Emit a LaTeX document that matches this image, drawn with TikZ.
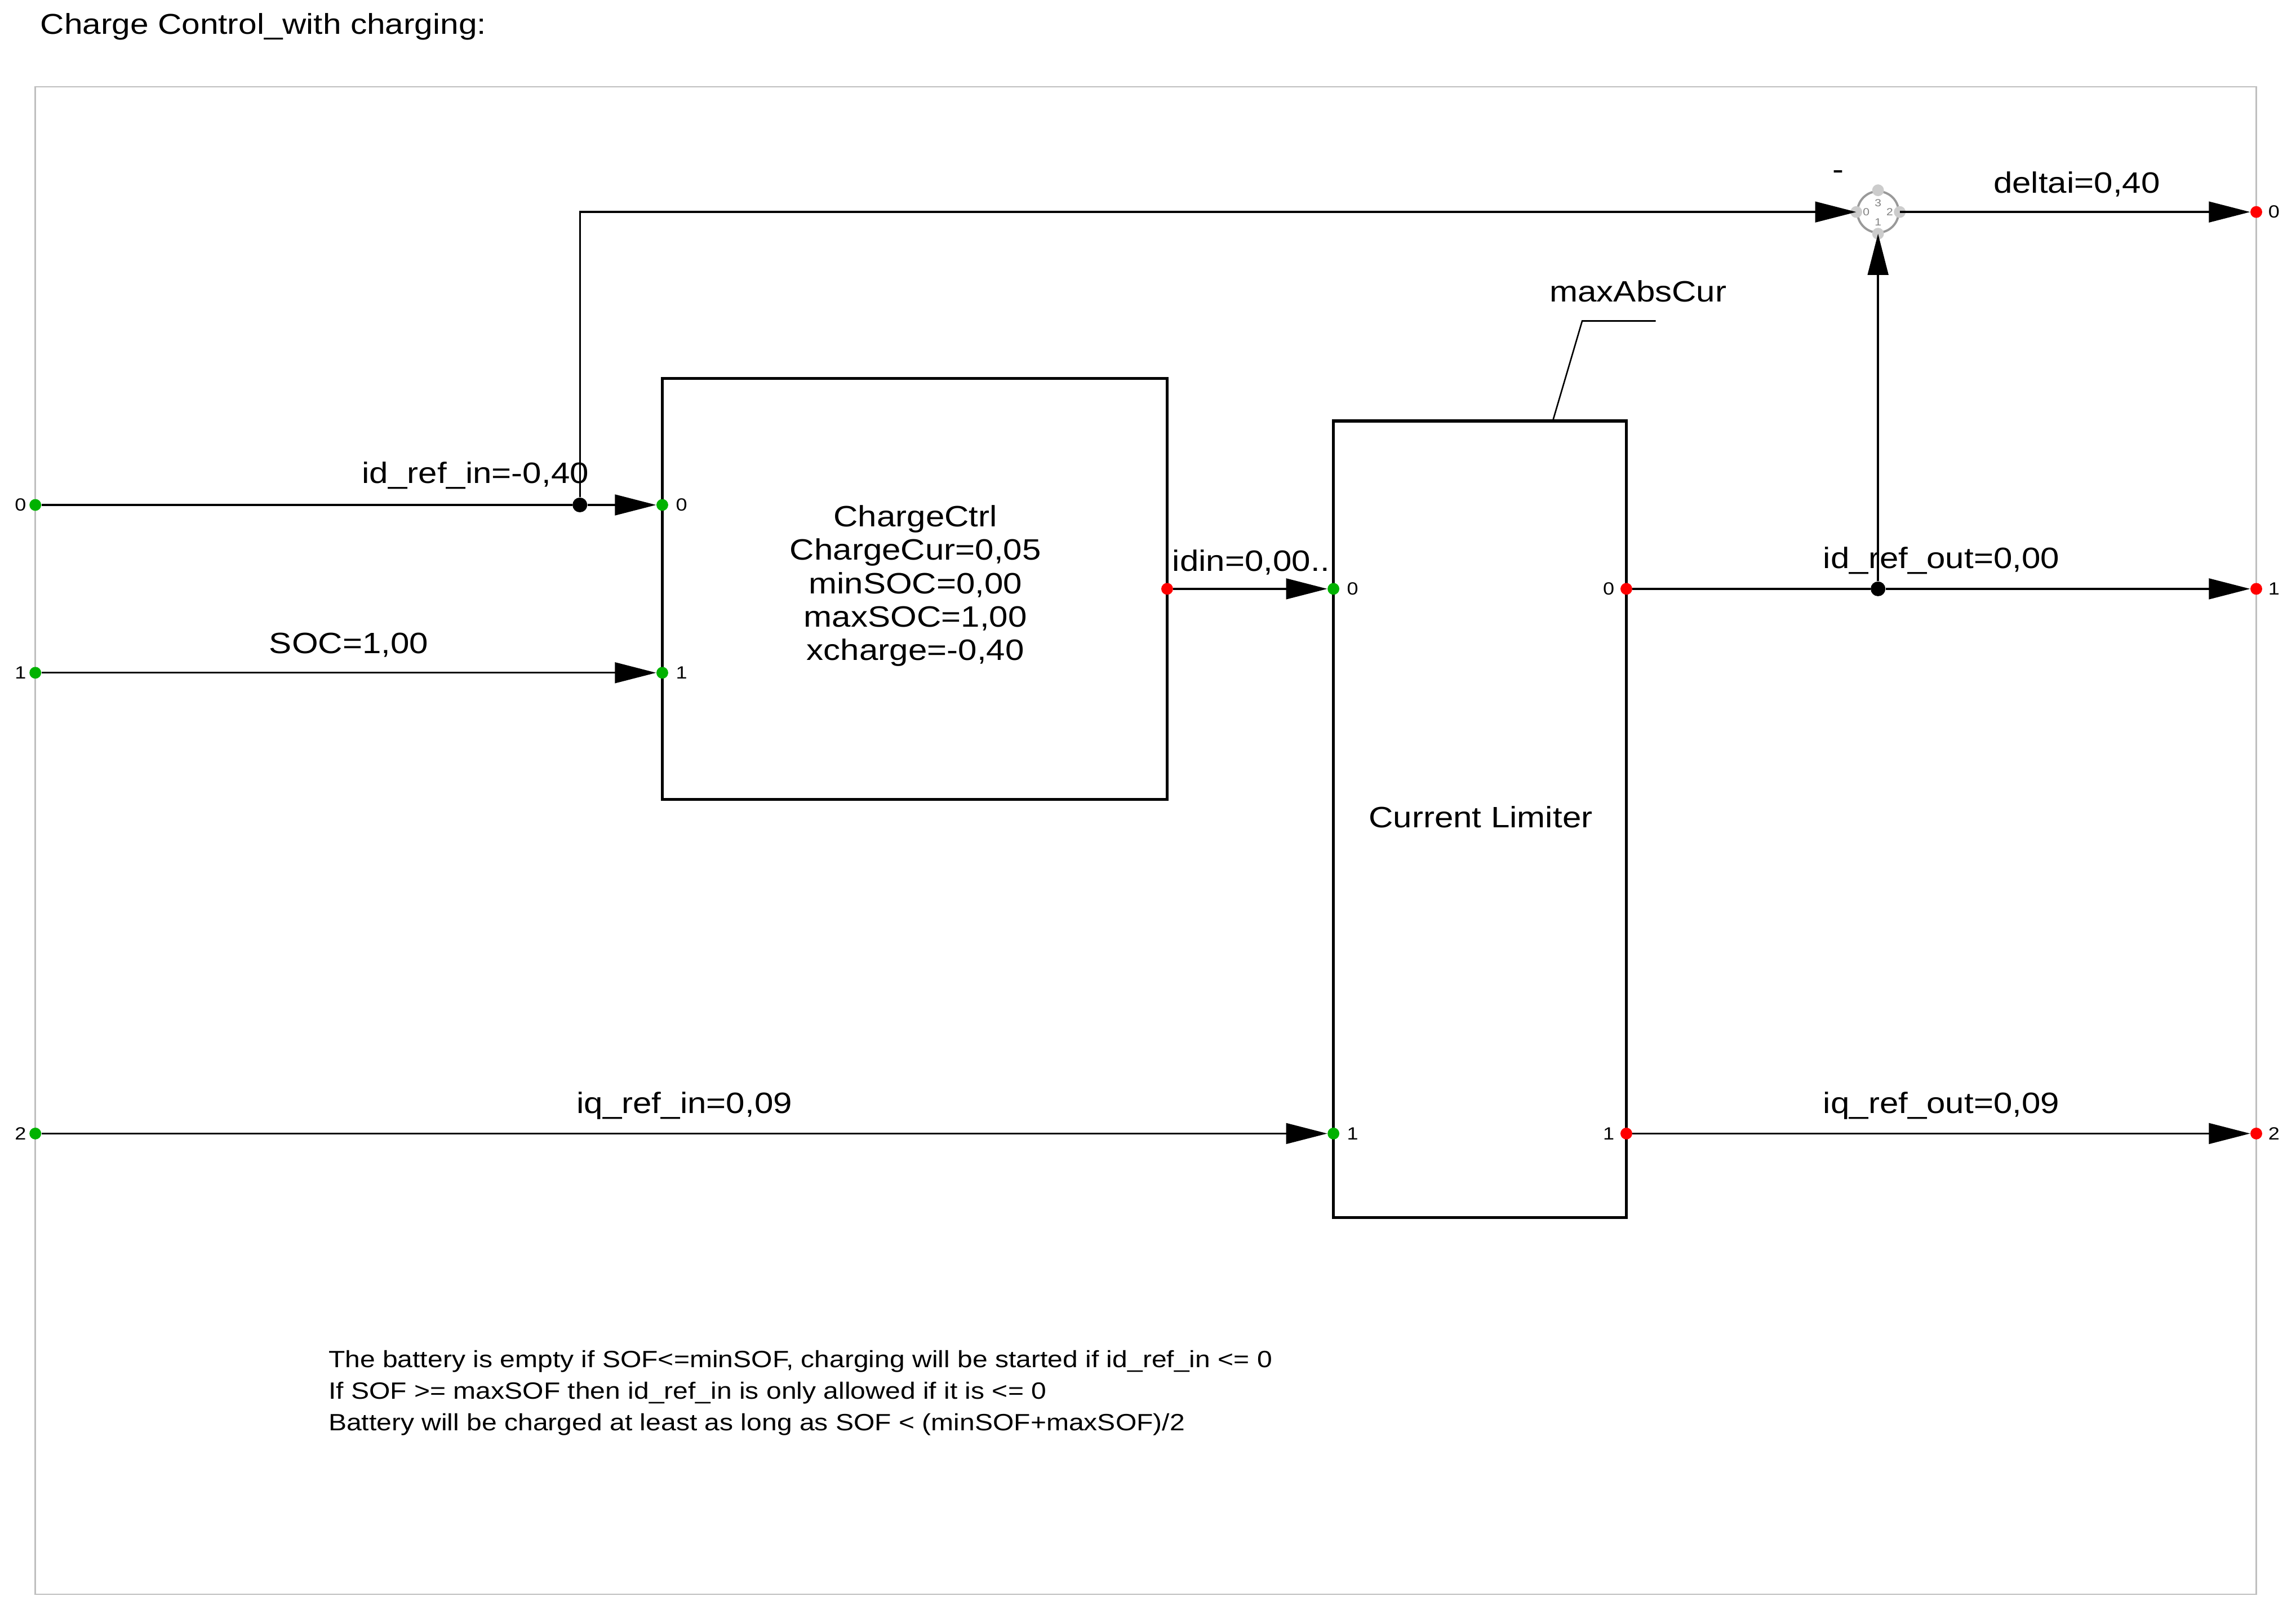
\documentclass[tikz,border=0pt]{standalone}
\usepackage{fontspec}
\setmainfont[FakeStretch=1.15]{Liberation Sans}
\usetikzlibrary{arrows.meta}
\begin{document}
\begin{tikzpicture}[x=1pt,y=-1pt,
  wire/.style={line width=1.3pt},
  arr/.style={wire,-{Triangle[length=28pt,width=14pt]}},
  box/.style={draw,line width=2pt,inner sep=0pt},
  gp/.style={circle,fill=green!70!black,inner sep=0pt,minimum size=8pt},
  rp/.style={circle,fill=red,inner sep=0pt,minimum size=8pt},
  jd/.style={circle,fill=black,inner sep=0pt,minimum size=10pt},
  pl/.style={font=\fontsize{12}{12}\selectfont,inner sep=1pt},
  lab/.style={font=\fontsize{20}{22}\selectfont,inner sep=0pt}]
\useasboundingbox (0,0) rectangle (1560,1090);
\node[anchor=west,font=\fontsize{19.5}{20}\selectfont] (title) at (24,18) {Charge Control\_with charging:};
\draw[gray!50,line width=1pt] (24,59) rectangle (1533,1083);
% blocks
\draw[box] (450,257) rectangle (793,543);
\node[lab,align=center,font=\fontsize{20}{22.7}\selectfont] (cc) at (622,398) {ChargeCtrl\\ChargeCur=0,05\\minSOC=0,00\\maxSOC=1,00\\xcharge=-0,40};
\draw[box] (906,286) rectangle (1105,827);
\node[lab] (cl) at (1006,555) {Current Limiter};
% ports
\node[gp] (i0) at (24,343) {}; \node[pl,anchor=east] at (19,343) {0};
\node[gp] (i1) at (24,457) {}; \node[pl,anchor=east] at (19,457) {1};
\node[gp] (i2) at (24,770) {}; \node[pl,anchor=east] at (19,770) {2};
\node[gp] (c0) at (450,343) {}; \node[pl,anchor=west] at (458,343) {0};
\node[gp] (c1) at (450,457) {}; \node[pl,anchor=west] at (458,457) {1};
\node[rp] (co) at (793,400) {};
\node[gp] (l0) at (906,400) {}; \node[pl,anchor=west] at (914,400) {0};
\node[gp] (l1) at (906,770) {}; \node[pl,anchor=west] at (914,770) {1};
\node[rp] (lo0) at (1105,400) {}; \node[pl,anchor=east] at (1098,400) {0};
\node[rp] (lo1) at (1105,770) {}; \node[pl,anchor=east] at (1098,770) {1};
\node[rp] (o0) at (1533,144) {}; \node[pl,anchor=west] at (1540,144) {0};
\node[rp] (o1) at (1533,400) {}; \node[pl,anchor=west] at (1540,400) {1};
\node[rp] (o2) at (1533,770) {}; \node[pl,anchor=west] at (1540,770) {2};
% sum
\node[circle,draw=gray!80,line width=1.5pt,minimum size=28pt,inner sep=0pt,fill=white] (sum) at (1276,144) {};
\foreach \a in {0,90,180,270} \fill[gray!40] (sum.\a) circle (4pt);
\node[font=\fontsize{7}{7}\selectfont,text=gray] at (1268,144) {0};
\node[font=\fontsize{7}{7}\selectfont,text=gray] at (1284,144) {2};
\node[font=\fontsize{7}{7}\selectfont,text=gray] at (1276,138) {3};
\node[font=\fontsize{7}{7}\selectfont,text=gray] at (1276,151) {1};
\node[lab] (minus) at (1249,119) {-};
% junctions
\node[jd] (j1) at (394,343) {};
\node[jd] (j2) at (1276,400) {};
% wires
\draw[wire] (i0) -- (j1);
\draw[arr] (j1) -- (c0);
\draw[arr] (i1) -- (c1);
\draw[arr] (co) -- (l0);
\draw[arr] (i2) -- (l1);
\draw[wire] (lo0) -- (j2);
\draw[arr] (j2) -- (o1);
\draw[arr] (lo1) -- (o2);
\draw[arr] (j1) |- (sum.west);
\draw[arr] (j2) -- (sum.south);
\draw[arr] (sum.east) -- (o0);
% labels
\node[lab] at (323,323) {id\_ref\_in=-0,40};
\node[lab] at (237,438) {SOC=1,00};
\node[lab] at (850,382) {idin=0,00..};
\node[lab] at (465,751) {iq\_ref\_in=0,09};
\node[lab] at (1319,381) {id\_ref\_out=0,00};
\node[lab] at (1319,751) {iq\_ref\_out=0,09};
\node[lab] at (1411,125) {deltai=0,40};
\node[lab] (mac) at (1113,198) {maxAbsCur};
\draw[line width=1pt] (1125,218) -- (1075,218) -- (1055,286);
\node[anchor=north west,align=left,inner sep=0pt,font=\fontsize{16}{21.5}\selectfont] (note) at (223,917)
 {The battery is empty if SOF<=minSOF, charging will be started if id\_ref\_in <= 0\\
 If SOF >= maxSOF then id\_ref\_in is only allowed if it is <= 0\\
 Battery will be charged at least as long as SOF < (minSOF+maxSOF)/2};
\end{tikzpicture}
\end{document}
